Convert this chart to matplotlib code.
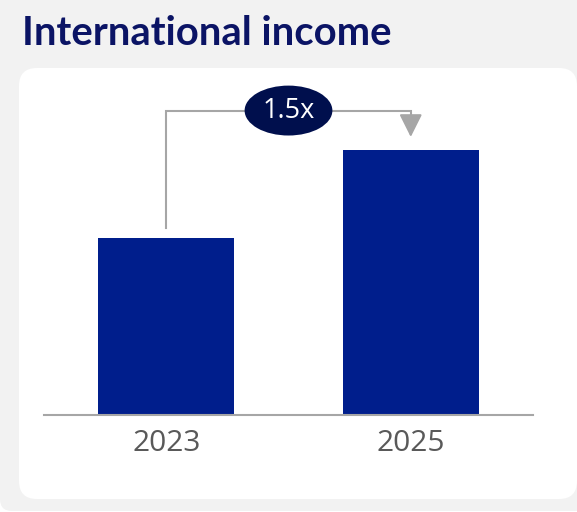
import matplotlib
matplotlib.use("Agg")
import matplotlib.pyplot as plt
from matplotlib.patches import FancyBboxPatch, Ellipse
from matplotlib.transforms import IdentityTransform

# datos: ingreso internacional (indice, 2023 = 1)
years = ["2023", "2025"]
income = [1.0, 1.5]

navy = "#001e8c"
dark_navy = "#000f4d"
title_navy = "#0b1465"
gray = "#a6a6a6"

W, H = 577, 512
fig = plt.figure(figsize=(W / 100, H / 100), dpi=100)
fig.patch.set_facecolor("white")

# fondo gris y tarjeta blanca (en pixeles), detras de los ejes
bg = FancyBboxPatch((0, 1), W + 40, H + 40, boxstyle="round,pad=0,rounding_size=12",
                    transform=IdentityTransform(), facecolor="#f2f2f2", edgecolor="none",
                    zorder=-3)
card = FancyBboxPatch((19, 13), 558, 431, boxstyle="round,pad=0,rounding_size=18",
                      transform=IdentityTransform(), facecolor="white", edgecolor="none",
                      zorder=-2)
fig.add_artist(bg)
fig.add_artist(card)

fig.text(22 / W, 1 - 45 / H, "International income", family="Lato", weight="bold",
         fontsize=28.8, color=title_navy, va="baseline", ha="left")

ax = fig.add_axes([44 / W, 97 / H, 489 / W, 347 / H])
ax.set_facecolor("none")
x = range(len(years))
ax.bar(x, income, width=0.555, color=navy, zorder=2)

ax.set_xlim(-0.5, 1.5)
ax.set_ylim(0, 347 / 177)
for s in ["top", "right", "left"]:
    ax.spines[s].set_visible(False)
ax.spines["bottom"].set_color(gray)
ax.spines["bottom"].set_linewidth(1.5)
ax.spines["bottom"].set_zorder(3)
ax.set_yticks([])
ax.set_xticks(list(x))
ax.set_xticklabels(years, family="Open Sans", fontsize=21.5, color="#595959")
ax.tick_params(axis="x", length=0, pad=10)

# conector con flecha entre las dos barras
gap = 0.055
top = max(income) + 0.22
ax.plot([0, 0, 1, 1], [income[0] + gap, top, top, income[1] + gap + 0.08],
        color=gray, lw=1.5, solid_joinstyle="miter", zorder=1)
ax.annotate("", xy=(1, income[1] + gap), xytext=(1, income[1] + gap + 0.09),
            arrowprops=dict(arrowstyle="-|>,head_length=0.7,head_width=0.35",
                            color=gray, lw=1.5, mutation_scale=20), zorder=1)

ratio = income[1] / income[0]
ax.add_patch(Ellipse((0.5, top), 0.359, 0.282, facecolor=dark_navy, edgecolor="none",
                     zorder=4, clip_on=False))
ax.text(0.5, top, f"{ratio:.1f}x", family="Open Sans", fontsize=19.5, color="white",
        ha="center", va="center", zorder=5)

fig.savefig("out.png", dpi=100)
